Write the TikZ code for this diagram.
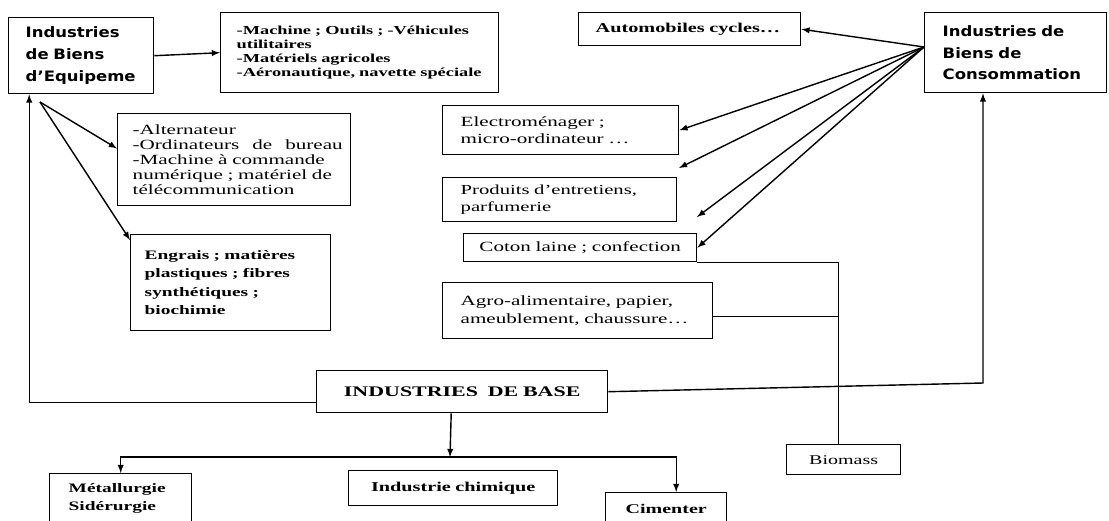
\documentclass[tikz,border=0pt]{standalone}
\usepackage{fontspec}
\setmainfont{Liberation Serif}[FakeStretch=1.5]
\newfontfamily\titrefont{DejaVu Sans}[FakeStretch=1.15]
\usepackage{tikz}
\usetikzlibrary{calc}
\usetikzlibrary{arrows}

\newdimen\px \px=0.025cm

\tikzset{
  boite/.style={draw, line width=1pt, rectangle, anchor=north west, inner ysep=0pt},
  titre/.style={font=\titrefont\bfseries\fontsize{10.2}{15.6}\selectfont, align=left},
}

\begin{document}
\begin{tikzpicture}[x=0.025cm, y=-0.025cm, >=latex, line width=1pt]
\useasboundingbox (0,0) rectangle (1109,520);
\clip (0,0) rectangle (1109,520);

% biens d'equipement
\node[boite, titre, inner xsep=17\px, text width=111\px, minimum height=76\px] (equip) at (8,17)
  {Industries\\de Biens\\d’Equipeme};
\node[boite, inner xsep=16\px, text width=246\px, minimum height=80\px, align=left,
  font=\bfseries\fontsize{8.7}{9.8}\selectfont] (machine) at (220,12)
  {-Machine ; Outils ; -Véhicules\\utilitaires\\-Matériels agricoles\\-Aéronautique, navette spéciale};
\node[boite, inner xsep=15\px, text width=203\px, minimum height=92\px, align=left,
  font=\fontsize{10}{10.5}\selectfont] (alt) at (117,113)
  {-Alternateur\\\makebox[210\px][s]{-Ordinateurs\hfill de\hfill bureau}\\-Machine à commande\\
   numérique ; matériel de\\télécommunication};
\node[boite, inner xsep=14\px, text width=172\px, minimum height=96\px, align=left,
  font=\bfseries\fontsize{9.2}{13}\selectfont] (eng) at (130,234)
  {Engrais ; matières\\plastiques ; fibres\\synthétiques ;\\biochimie};

% biens de consommation
\node[boite, titre, inner xsep=18\px, text width=146\px, minimum height=80\px] (conso) at (924,12)
  {Industries de\\Biens de\\Consommation};
\node[boite, inner xsep=17\px, text width=188\px, minimum height=33\px, align=left,
  font=\bfseries\fontsize{9.6}{11}\selectfont] (auto) at (578,12)
  {Automobiles cycles\ldots};
\node[boite, inner xsep=18\px, text width=200\px, minimum height=49\px, align=left,
  font=\fontsize{10}{12}\selectfont] (electro) at (442,105)
  {Electroménager ;\\micro-ordinateur \ldots};
\node[boite, inner xsep=18\px, text width=198\px, minimum height=44\px, align=left,
  font=\fontsize{9.8}{12}\selectfont] (produits) at (442,177)
  {Produits d’entretiens,\\parfumerie};
\node[boite, inner xsep=8\px, text width=217\px, minimum height=28\px, align=center,
  font=\fontsize{10}{12}\selectfont] (coton) at (463,233)
  {Coton laine ; confection};
\node[boite, inner xsep=18\px, text width=234\px, minimum height=56\px, align=left,
  font=\fontsize{10}{13.5}\selectfont] (agro) at (442,282)
  {Agro-alimentaire, papier,\\ameublement, chaussure\ldots};
\node[boite, inner xsep=8\px, text width=98\px, minimum height=30\px, align=center,
  font=\fontsize{9.5}{11}\selectfont] (biomass) at (786,444)
  {Biomass};

% industries de base
\node[boite, inner xsep=8\px, text width=275\px, minimum height=42\px, align=center,
  font=\bfseries\fontsize{10.4}{12}\selectfont] (base) at (316,370)
  {INDUSTRIES\ \ DE BASE};
\node[boite, inner xsep=19\px, text width=104\px, minimum height=50\px, align=left,
  font=\bfseries\fontsize{9.2}{12.8}\selectfont] (metal) at (49,473)
  {Métallurgie\\Sidérurgie};
\node[boite, inner xsep=8\px, text width=193\px, minimum height=35\px, align=center,
  font=\bfseries\fontsize{9.6}{11}\selectfont] (chim) at (348,470)
  {Industrie chimique};
\node[boite, inner xsep=8\px, text width=105\px, minimum height=32\px, align=center,
  font=\bfseries\fontsize{9.5}{11}\selectfont] (cim) at (605,492)
  {Cimenter};

\coordinate (efork) at (40,102);
\coordinate (cfork) at (924,47);
\coordinate (tipA) at (679,168);
\coordinate (tipB) at (697,217);
\coordinate (split) at (450,457);
\coordinate (ccorner) at (983,383);
\coordinate (bjoin) at ([xshift=-5\px]biomass.north);
\coordinate (ajoin) at ($(agro.east)+(0,6)$);

\draw[->] (equip.east) -- (machine.west);
\draw[->] (efork) -- ($(alt.north west)!0.38!(alt.south west)$);
\draw[->] (efork) -- ($(eng.north west)+(0,6)$);
\draw[->] ([yshift=-11\px]base.west) -| ([xshift=-52\px]equip.south);

\draw[->] (cfork) -- (auto.east);
\draw[->] (cfork) -- (electro.east);
\draw[->] (cfork) -- (tipA);
\draw[->] (cfork) -- (tipB);
\draw[->] (cfork) -- (coton.east);
\draw[->] (base.east) -- (ccorner) -- (ccorner |- conso.south);

\draw (coton.south east) -| (bjoin);
\draw (ajoin) -- (bjoin |- ajoin);

\draw[->] ([xshift=-11\px]base.south) -- (split);
\draw[->] (split) -| (metal.north);
\draw[->] (split) -| ([xshift=10\px]cim.north);
\end{tikzpicture}
\end{document}
